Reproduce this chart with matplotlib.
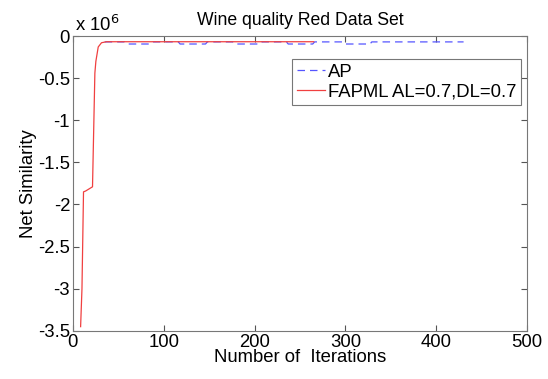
import matplotlib
matplotlib.use('Agg')
import matplotlib.pyplot as plt

plt.rcParams['font.family'] = ['Liberation Sans', 'DejaVu Sans']

# FAPML curve (values in units of 1e6)
fapml_iter = [8.5, 10, 11.7, 14, 21.6, 24.2, 25.3, 27.9, 31.5, 37, 265]
fapml_val = [-3.45, -3.0, -1.85, -1.84, -1.79, -0.44, -0.30, -0.13, -0.08, -0.068, -0.068]

# AP curve
ap_iter = [35, 57, 59, 86, 88, 116, 118, 146, 148, 176, 178, 206, 208,
           235, 237, 264, 266, 298, 300, 327, 329, 430]
ap_val = [-0.07, -0.07, -0.095, -0.095, -0.07, -0.07, -0.095, -0.095, -0.07,
          -0.07, -0.095, -0.095, -0.07, -0.07, -0.095, -0.095, -0.07, -0.07,
          -0.095, -0.095, -0.07, -0.07]

xticks = [0, 100, 200, 300, 400, 500]
yticks = [0, -0.5, -1, -1.5, -2, -2.5, -3, -3.5]
fs = 13.3

fig = plt.figure(figsize=(5.48, 3.79), dpi=100)
ax = fig.add_axes([0.133, 0.127, 0.829, 0.778])

ax.plot(ap_iter, ap_val, color='#5555ff', lw=0.9, ls=(0, (6, 4)), label='AP')
ax.plot(fapml_iter, fapml_val, color='#f04040', lw=0.9, label='FAPML AL=0.7,DL=0.7')

ax.set_xlim(0, 500)
ax.set_ylim(-3.5, 0)
ax.set_xticks(xticks)
ax.set_yticks(yticks)
ax.set_yticklabels(['0', '-0.5', '-1', '-1.5', '-2', '-2.5', '-3', '-3.5'])
ax.tick_params(direction='in', top=True, right=True, labelsize=fs, length=4,
               color='#555555', pad=2)
for s in ax.spines.values():
    s.set_color('#777777')

ax.text(0.005, 1.003, r'x 10$^6$', transform=ax.transAxes, fontsize=fs,
        ha='left', va='bottom')
ax.set_title('Wine quality Red Data Set', fontsize=12.7, pad=8)
ax.set_xlabel('Number of  Iterations', fontsize=fs, labelpad=-1)
ax.set_ylabel('Net Similarity', fontsize=fs, labelpad=1)

leg = ax.legend(loc='upper right', bbox_to_anchor=(0.987, 0.922), fontsize=fs,
                fancybox=False, framealpha=1, edgecolor='#777777',
                handlelength=1.5, handletextpad=0.2, borderpad=0.25,
                labelspacing=0.15, borderaxespad=0)
leg.get_frame().set_linewidth(0.8)

fig.savefig('out.png', dpi=100)
